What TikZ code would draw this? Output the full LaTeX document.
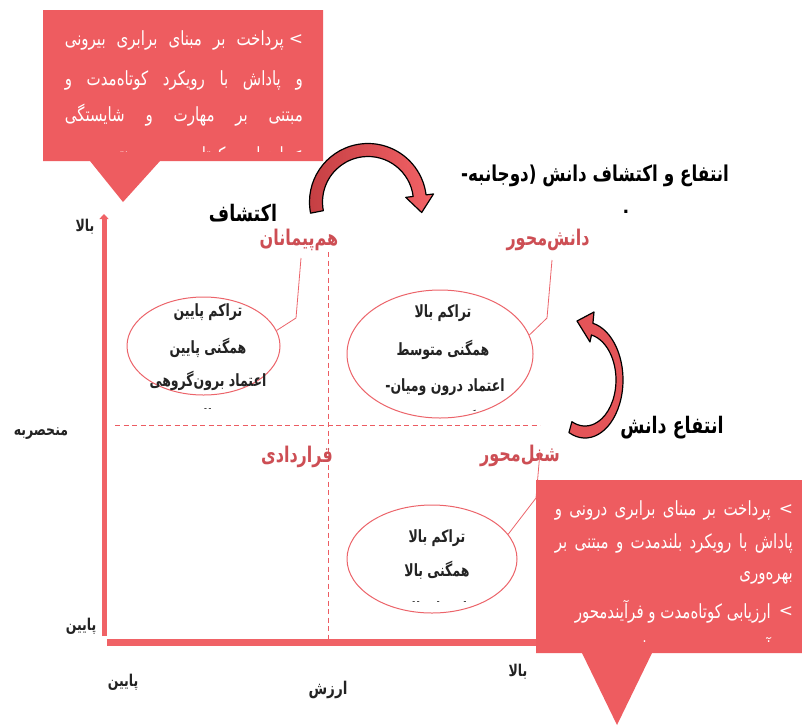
\documentclass[tikz,border=0pt]{standalone}
\usepackage{graphicx}
\usepackage{fontspec}
\usetikzlibrary{shapes.geometric,arrows.meta}
\newfontfamily\fa[Script=Arabic]{DejaVu Sans}
\TeXXeTstate=1
\newcommand\JL[2]{\hbox to #1{\spaceskip=.3em plus 30em minus .2em\relax#2}}
\newcommand\ty[2][1.3]{\scalebox{1}[#1]{#2}}
\definecolor{calred}{RGB}{238,92,96}
\definecolor{axred}{RGB}{240,98,102}
\definecolor{dashred}{RGB}{236,92,98}
\definecolor{ellred}{RGB}{236,100,106}
\definecolor{labred}{RGB}{205,78,84}
\definecolor{darktxt}{RGB}{35,35,35}
\definecolor{arrdark}{RGB}{196,62,66}
\definecolor{arrlight}{RGB}{242,98,102}
\definecolor{arrmid}{RGB}{228,84,88}
\begin{document}
\begin{tikzpicture}[x=1pt,y=-1pt,
  calltxt/.style={text=white,font=\fa\fontsize{15}{17}\selectfont,inner sep=0pt},
  bul/.style={text=white,font=\fa\fontsize{17}{17}\selectfont,inner sep=0pt},
  elltxt/.style={text=darktxt,font=\fa\bfseries\fontsize{12.5}{14}\selectfont,inner sep=0pt},
  quadlab/.style={text=labred,font=\fa\bfseries\fontsize{16}{18}\selectfont,inner sep=0pt},
  biglab/.style={text=black,font=\fa\bfseries\fontsize{17.5}{19}\selectfont,inner sep=0pt},
  axlab/.style={text=darktxt,font=\fa\bfseries\fontsize{12.5}{14}\selectfont,inner sep=0pt},
  ell/.style={draw=ellred,line width=1pt,ellipse,inner sep=0pt},
  leader/.style={draw=ellred,line width=0.8pt},
  dashln/.style={draw=dashred,line width=1pt,dash pattern=on 5pt off 3.5pt},
  axisln/.style={draw=axred,line width=5pt},
  bigarrow/.style={draw=black,line width=1.2pt,line join=round}
]
\fill[white] (0,0) rectangle (802,726);
\useasboundingbox (0,0) rectangle (802,726);

% dashed quadrant lines
\draw[dashln] (328,252) -- (328,640);
\draw[dashln] (115,425) -- (540,425);

% axes
\coordinate (yo) at (104,636);
\coordinate (yt) at (104,214);
\draw[axisln,-{Triangle[length=5pt,width=9pt]}] (yo) -- (yt);
\coordinate (xo) at (107,642);
\coordinate (xe) at (548,642);
\draw[axred,line width=7pt] (xo) -- (xe);

% ellipses
\node[ell,minimum width=153pt,minimum height=98pt] (e1) at (203.5,346) {};
\node[ell,minimum width=186pt,minimum height=128pt] (e2) at (440,354) {};
\node[ell,minimum width=170pt,minimum height=108pt] (e3) at (432,559) {};

\node[elltxt] (e1a) at (208,312) {\ty[1.35]{\beginR تراکم پایین\endR}};
\node[elltxt] (e1b) at (208,348) {\ty[1.35]{\beginR همگنی پایین\endR}};
\node[elltxt] (e1c) at (208,381) {\ty[1.35]{\beginR اعتماد برون^^^^200cگروهی\endR}};
\begin{scope}
\clip (150,401) rectangle (260,408);
\node[elltxt] (e1d) at (208,417) {\ty[1.35]{\beginR بالا\endR}};
\end{scope}

\node[elltxt] (e2a) at (443,313) {\ty[1.35]{\beginR تراکم بالا\endR}};
\node[elltxt] (e2b) at (443,350) {\ty[1.35]{\beginR همگنی متوسط\endR}};
\node[elltxt] (e2c) at (445,387) {\ty[1.35]{\beginR اعتماد درون ومیان-\endR}};
\begin{scope}
\clip (380,403) rectangle (500,410);
\node[elltxt] (e2d) at (442,420) {\ty[1.35]{\beginR گروهی بالا\endR}};
\end{scope}

\node[elltxt] (e3a) at (437,538) {\ty[1.35]{\beginR تراکم بالا\endR}};
\node[elltxt] (e3b) at (437,570) {\ty[1.35]{\beginR همگنی بالا\endR}};
\begin{scope}
\clip (400,594) rectangle (490,601);
\node[elltxt] (e3c) at (437,610) {\ty[1.35]{\beginR اعتماد بالا\endR}};
\end{scope}

% quadrant labels
\node[quadlab] (qa) at (299,240) {\ty[1.35]{\beginR هم^^^^200cپیمانان\endR}};
\node[quadlab] (qb) at (548,240) {\ty[1.35]{\beginR دانش^^^^200cمحور\endR}};
\node[quadlab] (qc) at (297,457) {\ty[1.35]{\beginR قراردادی\endR}};
\node[quadlab] (qd) at (520,456) {\ty[1.35]{\beginR شغل^^^^200cمحور\endR}};

% leaders
\coordinate (l1a) at (296,318); \coordinate (l1b) at (301,258);
\draw[leader] (e1.12) -- (l1a) -- (l1b);
\coordinate (l2a) at (547,318); \coordinate (l2b) at (552,260);
\draw[leader] (e2.12) -- (l2a) -- (l2b);
\coordinate (l3a) at (536,498); \coordinate (l3b) at (540,452);
\draw[leader] (e3.18) -- (l3a) -- (l3b);

% top-left callout
\fill[calred] (43,10) -- (323,10) -- (323,161) -- (160,161) -- (123,202) -- (90,161) -- (43,161) -- cycle;
\node[bul] (tb1) at (296,40) {>};
\node[calltxt,anchor=east] (t1) at (284,40) {\ty{\JL{219pt}{\beginR پرداخت بر مبنای برابری بیرونی\endR}}};
\node[calltxt,anchor=east] (t2) at (303,80) {\ty{\JL{238pt}{\beginR و پاداش با رویکرد کوتاه^^^^200cمدت و\endR}}};
\node[calltxt,anchor=east] (t3) at (303,115) {\ty{\JL{238pt}{\beginR مبتنی بر مهارت و شایستگی\endR}}};
\begin{scope}
\clip (43,140) rectangle (323,151);
\node[bul] (tb4) at (296,156) {>};
\node[calltxt,anchor=east] (t4) at (284,156) {\ty{\JL{219pt}{\beginR ارزیابی کوتاه^^^^200cمدت و نتیجه^^^^200cمحور\endR}}};
\end{scope}

% bottom-right callout
\fill[calred] (536,480) -- (802,480) -- (802,653) -- (652,653) -- (617,725) -- (582,653) -- (536,653) -- cycle;
\node[bul] (bb1) at (786,510) {>};
\node[calltxt,anchor=east] (b1) at (771,510) {\ty{\JL{216pt}{\beginR پرداخت بر مبنای برابری درونی و\endR}}};
\node[calltxt,anchor=east] (b2) at (793,543) {\ty{\JL{238pt}{\beginR پاداش با رویکرد بلندمدت و مبتنی بر\endR}}};
\node[calltxt,anchor=east] (b3) at (793,578) {\ty{\beginR بهره^^^^200cوری\endR}};
\node[bul] (bb4) at (786,612) {>};
\node[calltxt,anchor=east] (b4) at (771,612) {\ty{\beginR ارزیابی کوتاه^^^^200cمدت و فرآیندمحور\endR}};
\begin{scope}
\clip (536,628) rectangle (802,641);
\node[bul] (bb5) at (786,649) {>};
\node[calltxt,anchor=east] (b5) at (771,649) {\ty{\beginR آموزش تخصصی و بلندمدت\endR}};
\end{scope}

% curved arrows
\draw[bigarrow,left color=arrdark,right color=arrlight] (310.58,213.16) arc[start angle=-191,end angle=-7,radius=58.5] -- (433.5,193.96) -- (421.68,212.53) -- (405.72,197.37) -- (413.16,196.45) arc[start angle=-7,end angle=-191,radius=45.5] -- cycle;
\draw[bigarrow,fill=arrmid] (568.94,432.57) arc[start angle=115,end angle=-78,x radius=38,y radius=58] -- (594,312) -- (577,321) -- (590,342) -- (591.44,335.01) arc[start angle=-78,end angle=115,x radius=31,y radius=46] -- cycle;

% black labels
\node[biglab] (lx) at (243,213) {\ty{\beginR اکتشاف\endR}};
\node[biglab,font=\fa\bfseries\fontsize{16.8}{19}\selectfont] (lt) at (595,176) {\ty{\beginR انتفاع و اکتشاف دانش (دوجانبه-\endR}};
\node[biglab] (le) at (672,428) {\ty{\beginR انتفاع دانش\endR}};
\node[biglab] (dt) at (626,212) {.};

% axis labels
\node[axlab] (ya) at (85,227) {\ty{\beginR بالا\endR}};
\node[axlab] (ym) at (41,434) {\ty{\beginR منحصربه\endR}};
\node[axlab] (yb) at (81,626) {\ty{\beginR پایین\endR}};
\node[axlab] (xa) at (123,682) {\ty{\beginR پایین\endR}};
\node[axlab,font=\fa\bfseries\fontsize{13.5}{15}\selectfont] (xm) at (328,690) {\ty{\beginR ارزش\endR}};
\node[axlab] (xb) at (518,672) {\ty{\beginR بالا\endR}};
\end{tikzpicture}
\end{document}
